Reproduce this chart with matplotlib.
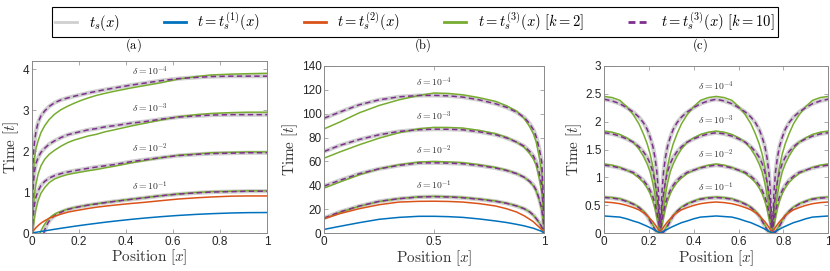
import matplotlib.pyplot as plt
from matplotlib.lines import Line2D

nan = float('nan')

# ---------- panel (a) ----------
xa = [0, 0.002, 0.004, 0.007, 0.011, 0.017, 0.026, 0.038, 0.054, 0.073, 0.096, 0.123, 0.153,
      0.18, 0.21, 0.24, 0.274, 0.31, 0.35, 0.42, 0.48, 0.55, 0.623, 0.7, 0.765, 0.85, 0.92, 1.0]
a_t1 = [0, 0.002, 0.004, 0.007, 0.011, 0.017, 0.026, 0.037, 0.052, 0.070, 0.091, 0.115, 0.141,
        0.164, 0.188, 0.211, 0.236, 0.262, 0.289, 0.332, 0.365, 0.399, 0.429, 0.455, 0.472,
        0.489, 0.497, 0.5]
a_t2 = [0, 0.02, 0.04, 0.065, 0.09, 0.13, 0.18, 0.24, 0.30, 0.36, 0.41, 0.46, 0.51,
        0.54, 0.57, 0.60, 0.63, 0.655, 0.68, 0.72, 0.75, 0.79, 0.83, 0.86, 0.88, 0.90, 0.905, 0.905]
a_ts_4 = [0, 1.2, 1.7, 2.0, 2.25, 2.48, 2.70, 2.86, 2.98, 3.09, 3.18, 3.25, 3.30,
          3.34, 3.38, 3.42, 3.46, 3.50, 3.54, 3.61, 3.66, 3.72, 3.77, 3.80, 3.82, 3.83, 3.83, 3.83]
a_k2_4 = [0, 0.7, 1.2, 1.55, 1.84, 2.06, 2.25, 2.45, 2.62, 2.77, 2.90, 3.01, 3.10,
          3.17, 3.24, 3.30, 3.36, 3.41, 3.46, 3.54, 3.60, 3.67, 3.76, 3.82, 3.86, 3.88, 3.89, 3.90]
a_ts_3 = [0, 0.6, 1.0, 1.28, 1.52, 1.70, 1.84, 1.97, 2.07, 2.17, 2.25, 2.33, 2.40,
          2.44, 2.48, 2.52, 2.55, 2.59, 2.62, 2.68, 2.72, 2.78, 2.83, 2.86, 2.88, 2.89, 2.89, 2.89]
a_k2_3 = [0, 0.25, 0.5, 0.72, 0.95, 1.2, 1.44, 1.64, 1.80, 1.92, 2.02, 2.12, 2.21,
          2.27, 2.32, 2.37, 2.41, 2.47, 2.52, 2.61, 2.68, 2.76, 2.84, 2.89, 2.92, 2.94, 2.95, 2.95]
a_ts_2 = [0, 0.15, 0.35, 0.52, 0.71, 0.88, 1.03, 1.16, 1.26, 1.34, 1.40, 1.45, 1.49,
          1.52, 1.55, 1.58, 1.61, 1.64, 1.67, 1.74, 1.79, 1.84, 1.89, 1.92, 1.94, 1.95, 1.96, 1.96]
a_k2_2 = [0, 0.03, 0.1, 0.22, 0.38, 0.58, 0.79, 0.97, 1.11, 1.23, 1.32, 1.38, 1.43,
          1.46, 1.49, 1.52, 1.55, 1.59, 1.63, 1.71, 1.77, 1.84, 1.90, 1.93, 1.96, 1.97, 1.98, 1.98]
xa1 = [0.05, 0.055, 0.06, 0.067, 0.075, 0.085, 0.096, 0.11, 0.125, 0.14, 0.153, 0.18, 0.21,
       0.24, 0.274, 0.31, 0.35, 0.42, 0.48, 0.55, 0.623, 0.7, 0.765, 0.85, 0.92, 1.0]
a_ts_1 = [0, 0.09, 0.16, 0.24, 0.31, 0.37, 0.42, 0.47, 0.51, 0.55, 0.575, 0.615, 0.65,
          0.68, 0.71, 0.74, 0.77, 0.82, 0.86, 0.91, 0.95, 0.98, 1.00, 1.01, 1.02, 1.02]
xa1g = [0.035, 0.04, 0.045, 0.052, 0.06, 0.067, 0.075, 0.085, 0.096, 0.11, 0.125, 0.14, 0.153,
        0.18, 0.21, 0.24, 0.274, 0.31, 0.35, 0.42, 0.48, 0.55, 0.623, 0.7, 0.765, 0.85, 0.92, 1.0]
a_k2_1 = [0, 0.07, 0.13, 0.2, 0.27, 0.32, 0.37, 0.42, 0.46, 0.50, 0.53, 0.56, 0.585,
          0.62, 0.655, 0.685, 0.715, 0.745, 0.775, 0.825, 0.865, 0.91, 0.955, 0.99, 1.01,
          1.02, 1.03, 1.03]

# ---------- panel (b) ----------
xb = [0, 0.07, 0.16, 0.25, 0.34, 0.43, 0.5, 0.565, 0.63, 0.705, 0.78, 0.83, 0.875, 0.91,
      0.935, 0.952, 0.965, 0.978, 0.99, 0.997, 1.0]
b_t1 = [3.3, 5.8, 8.9, 11.7, 13.3, 14.2, 14.2, 13.9, 13.3, 12.0, 10.3, 9.0, 7.5, 6.2,
        5.0, 4.2, 3.3, 2.4, 1.6, 0.6, 0]
b_t2 = [12.2, 16.4, 20.6, 23.9, 26.1, 26.7, 26.8, 26.6, 26.1, 24.8, 22.8, 20.5, 17.8, 14.6,
        11.7, 9.6, 7.3, 5.2, 3.0, 1.5, 0.5]
b_ts_4 = [96.2, 101.2, 107.4, 111.5, 114.0, 115.1, 115.2, 114.8, 113.8, 111.5, 108.2, 105.2,
          101.2, 96.8, 91.5, 86.5, 80.4, 71.0, 59.5, 30, 0]
b_k2_4 = [87.3, 92.9, 100.7, 106.8, 111.5, 115.1, 117.2, 116.8, 115.7, 113.3, 110.2, 106.5,
          102.0, 96.0, 89.0, 83.0, 76.0, 64.0, 50.0, 25, 0]
b_ts_3 = [68.4, 73.4, 78.4, 82.3, 85.1, 86.5, 87.0, 86.9, 86.5, 84.8, 82.3, 79.6,
          76.2, 72.8, 68.4, 64.5, 59.5, 51.0, 40.0, 20, 0]
b_k2_3 = [62.8, 67.9, 74.0, 79.5, 84.0, 87.3, 88.5, 88.4, 87.9, 86.0, 83.2, 80.2,
          76.2, 71.8, 66.5, 62.0, 56.7, 46.0, 34.5, 17, 0]
b_ts_2 = [39.5, 44.2, 49.8, 53.9, 56.7, 58.7, 58.9, 58.6, 58.1, 56.6, 54.5, 52.4,
          49.8, 46.8, 43.4, 40.2, 35.9, 29.0, 20.6, 10, 0]
b_k2_2 = [37.8, 42.8, 48.9, 53.9, 57.3, 59.5, 60.0, 59.6, 59.0, 57.3, 55.0, 52.8,
          50.0, 46.8, 43.0, 39.5, 35.0, 28.0, 19.0, 9, 0]
b_ts_1 = [12.8, 17.8, 22.8, 26.7, 28.9, 30.3, 30.6, 30.3, 29.7, 28.4, 26.7, 25.0,
          22.8, 20.5, 17.8, 15.2, 12.2, 9.0, 5.3, 2, 0]
b_k2_1 = [12.3, 17.5, 22.6, 26.6, 29.0, 30.5, 30.9, 30.6, 30.0, 28.7, 27.0, 25.2,
          23.0, 20.6, 17.8, 15.0, 12.0, 8.8, 5.0, 2, 0]

# ---------- panel (c) ----------
xc = [0, 0.035, 0.07, 0.10, 0.13, 0.155, 0.175, 0.192, 0.205, 0.217, 0.227, 0.235, 0.242, 0.25,
      0.258, 0.265, 0.273, 0.283, 0.295, 0.308, 0.325, 0.345, 0.37, 0.40, 0.43, 0.465, 0.5,
      0.535, 0.57, 0.60, 0.63, 0.655, 0.675, 0.692, 0.705, 0.717, 0.727, 0.735, 0.742, 0.75,
      0.758, 0.765, 0.773, 0.783, 0.795, 0.808, 0.825, 0.845, 0.87, 0.90, 0.93, 0.965, 1.0]
c_t1 = [0.31, 0.30, 0.29, 0.26, 0.22, 0.19, 0.155, 0.125, 0.10, 0.075, 0.054, 0.038, 0.024, 0.0,
        0.024, 0.038, 0.054, 0.075, 0.10, 0.125, 0.155, 0.19, 0.22, 0.26, 0.29, 0.30, 0.31,
        0.30, 0.29, 0.26, 0.22, 0.19, 0.155, 0.125, 0.10, 0.075, 0.054, 0.038, 0.024, 0.0,
        0.024, 0.038, 0.054, 0.075, 0.10, 0.125, 0.155, 0.19, 0.22, 0.26, 0.29, 0.30, 0.31]
c_t2 = [0.56, 0.55, 0.53, 0.50, 0.46, 0.42, 0.37, 0.32, 0.26, 0.21, 0.155, 0.11, 0.065, 0.0,
        0.065, 0.11, 0.155, 0.21, 0.26, 0.32, 0.37, 0.42, 0.46, 0.50, 0.53, 0.55, 0.56,
        0.55, 0.53, 0.50, 0.46, 0.42, 0.37, 0.32, 0.26, 0.21, 0.155, 0.11, 0.065, 0.0,
        0.065, 0.11, 0.155, 0.21, 0.26, 0.32, 0.37, 0.42, 0.46, 0.50, 0.53, 0.55, 0.56]
c_ts_4 = [2.40, 2.37, 2.32, 2.25, 2.17, 2.08, 1.98, 1.86, 1.72, 1.56, 1.35, 1.10, 0.75, 0.0,
          0.75, 1.10, 1.35, 1.56, 1.72, 1.86, 1.98, 2.08, 2.17, 2.25, 2.32, 2.37, 2.40,
          2.37, 2.32, 2.25, 2.17, 2.08, 1.98, 1.86, 1.72, 1.56, 1.35, 1.10, 0.75, 0.0,
          0.75, 1.10, 1.35, 1.56, 1.72, 1.86, 1.98, 2.08, 2.17, 2.25, 2.32, 2.37, 2.40]
c_k2_4 = [2.45, 2.43, 2.38, 2.27, 2.12, 1.96, 1.78, 1.60, 1.42, 1.20, 0.92, 0.65, 0.38, 0.0,
          0.38, 0.65, 0.92, 1.20, 1.42, 1.60, 1.78, 1.96, 2.12, 2.27, 2.38, 2.43, 2.45,
          2.43, 2.38, 2.27, 2.12, 1.96, 1.78, 1.60, 1.42, 1.20, 0.92, 0.65, 0.38, 0.0,
          0.38, 0.65, 0.92, 1.20, 1.42, 1.60, 1.78, 1.96, 2.12, 2.27, 2.38, 2.43, 2.45]
c_ts_3 = [1.80, 1.78, 1.74, 1.69, 1.63, 1.55, 1.46, 1.36, 1.25, 1.10, 0.92, 0.72, 0.50, 0.0,
          0.50, 0.72, 0.92, 1.10, 1.25, 1.36, 1.46, 1.55, 1.63, 1.69, 1.74, 1.78, 1.80,
          1.78, 1.74, 1.69, 1.63, 1.55, 1.46, 1.36, 1.25, 1.10, 0.92, 0.72, 0.50, 0.0,
          0.50, 0.72, 0.92, 1.10, 1.25, 1.36, 1.46, 1.55, 1.63, 1.69, 1.74, 1.78, 1.80]
c_k2_3 = [1.83, 1.81, 1.77, 1.71, 1.63, 1.51, 1.38, 1.24, 1.10, 0.90, 0.68, 0.46, 0.26, 0.0,
          0.26, 0.46, 0.68, 0.90, 1.10, 1.24, 1.38, 1.51, 1.63, 1.71, 1.77, 1.81, 1.83,
          1.81, 1.77, 1.71, 1.63, 1.51, 1.38, 1.24, 1.10, 0.90, 0.68, 0.46, 0.26, 0.0,
          0.26, 0.46, 0.68, 0.90, 1.10, 1.24, 1.38, 1.51, 1.63, 1.71, 1.77, 1.81, 1.83]
c_ts_2 = [1.22, 1.20, 1.17, 1.13, 1.09, 1.02, 0.95, 0.86, 0.77, 0.66, 0.53, 0.38, 0.23, 0.0,
          0.23, 0.38, 0.53, 0.66, 0.77, 0.86, 0.95, 1.02, 1.09, 1.13, 1.17, 1.20, 1.22,
          1.20, 1.17, 1.13, 1.09, 1.02, 0.95, 0.86, 0.77, 0.66, 0.53, 0.38, 0.23, 0.0,
          0.23, 0.38, 0.53, 0.66, 0.77, 0.86, 0.95, 1.02, 1.09, 1.13, 1.17, 1.20, 1.22]
c_k2_2 = [1.24, 1.22, 1.18, 1.13, 1.07, 0.99, 0.91, 0.81, 0.71, 0.58, 0.44, 0.28, 0.14, 0.0,
          0.14, 0.28, 0.44, 0.58, 0.71, 0.81, 0.91, 0.99, 1.07, 1.13, 1.18, 1.22, 1.24,
          1.22, 1.18, 1.13, 1.07, 0.99, 0.91, 0.81, 0.71, 0.58, 0.44, 0.28, 0.14, 0.0,
          0.14, 0.28, 0.44, 0.58, 0.71, 0.81, 0.91, 0.99, 1.07, 1.13, 1.18, 1.22, 1.24]
c_ts_1 = [0.64, 0.63, 0.61, 0.57, 0.52, 0.46, 0.39, 0.31, 0.22, 0.13, 0.06, 0.02, 0.0, nan,
          0.0, 0.02, 0.06, 0.13, 0.22, 0.31, 0.39, 0.46, 0.52, 0.57, 0.61, 0.63, 0.64,
          0.63, 0.61, 0.57, 0.52, 0.46, 0.39, 0.31, 0.22, 0.13, 0.06, 0.02, 0.0, nan,
          0.0, 0.02, 0.06, 0.13, 0.22, 0.31, 0.39, 0.46, 0.52, 0.57, 0.61, 0.63, 0.64]
c_k2_1 = [0.65, 0.64, 0.62, 0.58, 0.53, 0.47, 0.40, 0.32, 0.23, 0.15, 0.08, 0.03, 0.0, nan,
          0.0, 0.03, 0.08, 0.15, 0.23, 0.32, 0.40, 0.47, 0.53, 0.58, 0.62, 0.64, 0.65,
          0.64, 0.62, 0.58, 0.53, 0.47, 0.40, 0.32, 0.23, 0.15, 0.08, 0.03, 0.0, nan,
          0.0, 0.03, 0.08, 0.15, 0.23, 0.32, 0.40, 0.47, 0.53, 0.58, 0.62, 0.64, 0.65]

# étiquettes delta (exposant, position y) par panneau
deltas = [-1, -2, -3, -4]
a_lab_y = [1.13, 2.08, 3.05, 3.95]
b_lab_y = [39.8, 69.0, 97.4, 126.6]
c_lab_y = [0.83, 1.42, 2.03, 2.64]

# graduations
a_xticks = [0, 0.2, 0.4, 0.6, 0.8, 1]
a_xlabels = ['0', '0.2', '0.4', '0.6', '0.8', '1']
a_yticks = [0, 1, 2, 3, 4]
b_xticks = [0, 0.5, 1]
b_xlabels = ['0', '0.5', '1']
b_yticks = [0, 20, 40, 60, 80, 100, 120, 140]
c_yticks = [0, 0.5, 1, 1.5, 2, 2.5, 3]
c_ylabels = ['0', '0.5', '1', '1.5', '2', '2.5', '3']

# couleurs MATLAB
GRAY = '#cfcfcf'
BLUE = '#0072BD'
RED = '#D95319'
GREEN = '#77AC30'
PURPLE = '#7E2F8E'
AXC = '#8a8a8a'

plt.rcParams['mathtext.fontset'] = 'cm'
plt.rcParams['font.family'] = ['Liberation Sans', 'DejaVu Sans']

fig = plt.figure(figsize=(8.3, 2.71), dpi=100)
W, H = 830, 271


def make_ax(l, r, t, b):
    return fig.add_axes([l / W, 1 - b / H, (r - l) / W, (b - t) / H])


def style(ax, ylim, xt, xl, yt, yl):
    ax.set_xlim(0, 1)
    ax.set_ylim(ylim)
    ax.set_xticks(xt)
    ax.set_xticklabels(xl)
    ax.set_yticks(yt)
    ax.set_yticklabels(yl)
    ax.tick_params(direction='in', length=3, width=0.5, color=AXC, labelsize=8.5,
                   labelcolor='#262626', pad=2, top=True, right=True)
    for s in ax.spines.values():
        s.set_color(AXC)
        s.set_linewidth(0.7)
    ax.set_xlabel(r'$\mathrm{Position}\ [x]$', fontsize=11, labelpad=0, color='#333333')
    ax.set_ylabel(r'$\mathrm{Time}\ [t]$', fontsize=11, labelpad=1, color='#333333')


def curves(ax, series, x12, t1, t2):
    # series : (x ts, ts, x k2, k2)
    for xs, ts, xk, k2 in series:
        ax.plot(xs, ts, color=GRAY, lw=3.0, solid_capstyle='butt')
    for xs, ts, xk, k2 in series:
        ax.plot(xk, k2, color=GREEN, lw=1.1)
        ax.plot(xs, ts, color=PURPLE, lw=1.1, dashes=(3.5, 2.2))
    ax.plot(x12, t2, color=RED, lw=1.1)
    ax.plot(x12, t1, color=BLUE, lw=1.1)


def labels(ax, ys):
    for d, y in zip(deltas, ys):
        ax.text(0.5, y, r'$\delta = 10^{%d}$' % d, ha='center', va='center',
                fontsize=7, color='#333333')


# (a)
ax = make_ax(32, 267, 61, 233)
curves(ax, [(xa, a_ts_4, xa, a_k2_4), (xa, a_ts_3, xa, a_k2_3), (xa, a_ts_2, xa, a_k2_2),
            (xa1, a_ts_1, xa1g, a_k2_1)], xa, a_t1, a_t2)
style(ax, (0, 4.2), a_xticks, a_xlabels, a_yticks, [str(v) for v in a_yticks])
labels(ax, a_lab_y)

# (b)
ax = make_ax(324.3, 544, 65.7, 233.3)
curves(ax, [(xb, b_ts_4, xb, b_k2_4), (xb, b_ts_3, xb, b_k2_3), (xb, b_ts_2, xb, b_k2_2),
            (xb, b_ts_1, xb, b_k2_1)], xb, b_t1, b_t2)
style(ax, (0, 140), b_xticks, b_xlabels, b_yticks, [str(v) for v in b_yticks])
labels(ax, b_lab_y)

# (c)
ax = make_ax(604.2, 828.2, 65.7, 233.3)
curves(ax, [(xc, c_ts_4, xc, c_k2_4), (xc, c_ts_3, xc, c_k2_3), (xc, c_ts_2, xc, c_k2_2),
            (xc, c_ts_1, xc, c_k2_1)], xc, c_t1, c_t2)
style(ax, (0, 3), a_xticks, a_xlabels, c_yticks, c_ylabels)
labels(ax, c_lab_y)

# titres des sous-figures
for xp, s in [(133, '(a)'), (423, '(b)'), (700, '(c)')]:
    fig.text(xp / W, 1 - 45 / H, r'$\mathrm{%s}$' % s, ha='center', va='center', fontsize=9)

# légende commune
handles = [Line2D([], [], color=GRAY, lw=2),
           Line2D([], [], color=BLUE, lw=2),
           Line2D([], [], color=RED, lw=2),
           Line2D([], [], color=GREEN, lw=2),
           Line2D([], [], color=PURPLE, lw=2, dashes=(2.5, 1.5))]
names = [r'$t_s(x)$', r'$t = t_s^{(1)}(x)$', r'$t = t_s^{(2)}(x)$',
         r'$t = t_s^{(3)}(x)\ [k = 2]$', r'$t = t_s^{(3)}(x)\ [k = 10]$']
leg = fig.legend(handles, names, loc='upper center', bbox_to_anchor=(0.5, 1.0), ncol=5,
                 fontsize=10.5, frameon=True, fancybox=False, edgecolor='black',
                 framealpha=1, handlelength=1.5, columnspacing=3.0, borderpad=0.25,
                 handletextpad=0.8)
leg.get_frame().set_linewidth(0.8)

plt.savefig('out.png', dpi=100)
